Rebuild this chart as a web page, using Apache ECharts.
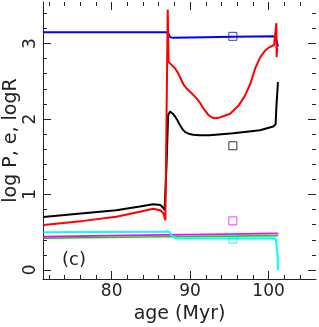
<!DOCTYPE html>
<html>
<head>
<meta charset="utf-8">
<script src="https://cdn.jsdelivr.net/npm/echarts@6/dist/echarts.min.js"></script>
<style>html,body{margin:0;padding:0;background:#fff}#c{width:319px;height:327px}</style>
</head>
<body>
<div id="c"></div>
<script>
// ---- data ----
var blueAge  = [71.3, 80, 86.9, 87.2, 87.45, 87.8, 90, 95.5, 100.9, 101.05, 101.2];
var blueVal  = [3.148, 3.148, 3.148, 3.14, 3.085, 3.075, 3.08, 3.09, 3.097, 3.09, 2.96];

var redAge = [71.3, 76.4, 80.6, 83.6, 85.3, 86.2, 86.6, 86.85, 87.15, 87.25, 87.6, 88.1, 88.4, 88.7, 89.15, 89.6, 90.0, 90.4, 90.85, 91.3, 91.7, 92.35, 92.8, 93.2, 93.6, 94.05, 95.1, 96.2, 97.0, 97.7, 98.3, 98.95, 99.6, 100.1, 100.7, 100.95, 101.0, 101.03, 101.08, 101.12];
var redVal = [0.595, 0.65, 0.705, 0.77, 0.81, 0.79, 0.75, 0.66, 3.45, 2.76, 2.72, 2.67, 2.62, 2.56, 2.46, 2.40, 2.36, 2.32, 2.27, 2.21, 2.14, 2.05, 2.02, 2.01, 2.015, 2.03, 2.07, 2.18, 2.31, 2.47, 2.67, 2.82, 2.91, 2.95, 2.98, 3.0, 3.27, 2.82, 2.95, 2.88];

var blackAge = [71.3, 76.4, 80.6, 83.6, 85.3, 86.2, 86.6, 86.75, 87.0, 87.2, 87.45, 87.8, 88.1, 88.4, 88.7, 89.0, 89.35, 89.8, 90.4, 91.2, 92.5, 95.5, 98.9, 100.6, 100.9, 101.0, 101.2];
var blackVal = [0.70, 0.75, 0.79, 0.84, 0.87, 0.86, 0.82, 0.79, 1.4, 2.05, 2.1, 2.07, 2.03, 1.98, 1.92, 1.87, 1.83, 1.805, 1.79, 1.785, 1.785, 1.81, 1.85, 1.9, 1.93, 2.16, 2.49];

var cyanAge = [71.3, 86.5, 87.0, 87.4, 87.8, 88.3, 95, 100.9, 101.05, 101.15, 101.2];
var cyanVal = [0.50, 0.505, 0.51, 0.50, 0.44, 0.42, 0.415, 0.42, 0.40, 0.2, 0.0];

var magentaAge = [71.3, 80, 87, 95, 101.25];
var magentaVal = [0.44, 0.455, 0.465, 0.475, 0.485];

var greenAge = [71.3, 87, 101.25];
var greenVal = [0.42, 0.44, 0.455];

var markAge = [95.45, 95.45, 95.45, 95.45];
var markVal = [3.095, 1.645, 0.65, 0.41];
var markColor = ['#0000ff', '#000000', '#ff00ff', '#00e5ee'];

var xMajor = [80, 90, 100];
var xMinor = [72, 74, 76, 78, 82, 84, 86, 88, 92, 94, 96, 98, 102, 104];
var yMajor = [0, 1, 2, 3];
var yMinor = [0.2, 0.4, 0.6, 0.8, 1.2, 1.4, 1.6, 1.8, 2.2, 2.4, 2.6, 2.8, 3.2, 3.4];

var xMin = 71.25, xMax = 106.05, yMin = -0.12, yMax = 3.55;
var FONT = 'DejaVu Sans';
var TXT = '#222';

function pairs(a, b) { return a.map(function (v, i) { return [v, b[i]]; }); }

function xAx(pos, ticks, len, label, name) {
  return {
    type: 'value', position: pos, min: xMin, max: xMax,
    axisLine: { show: label, onZero: false, lineStyle: { color: '#222', width: 1 } },
    axisTick: { show: true, inside: true, length: len, customValues: ticks, lineStyle: { color: '#222', width: 1 } },
    axisLabel: { show: label, customValues: ticks, margin: 4, color: TXT, fontFamily: FONT, fontSize: 17 },
    splitLine: { show: false },
    name: name || '', nameLocation: 'middle', nameGap: 26, nameMoveOverlap: false,
    nameTextStyle: { color: TXT, fontFamily: FONT, fontSize: 19 }
  };
}
function yAx(pos, ticks, len, label, name) {
  return {
    type: 'value', position: pos, min: yMin, max: yMax,
    axisLine: { show: label, onZero: false, lineStyle: { color: '#222', width: 1 } },
    axisTick: { show: true, inside: true, length: len, customValues: ticks, lineStyle: { color: '#222', width: 1 } },
    axisLabel: { show: label, customValues: ticks, rotate: 90, margin: 4, color: TXT, fontFamily: FONT, fontSize: 17 },
    splitLine: { show: false },
    name: name || '', nameLocation: 'middle', nameGap: 22, nameRotate: 90, nameMoveOverlap: false,
    nameTextStyle: { color: TXT, fontFamily: FONT, fontSize: 19 }
  };
}

function line(a, b, color, w) {
  return {
    type: 'line', data: pairs(a, b), showSymbol: false, symbol: 'none',
    lineStyle: { color: color, width: w }, itemStyle: { color: color },
    animation: false, z: 3
  };
}

var series = [
  line(greenAge, greenVal, '#00dd00', 1.6),
  line(magentaAge, magentaVal, '#ff00ff', 1.8),
  line(cyanAge, cyanVal, '#00ffff', 2),
  line(blueAge, blueVal, '#0000ff', 2),
  line(blackAge, blackVal, '#000000', 2),
  line(redAge, redVal, '#ff0000', 2),
  {
    type: 'scatter', symbol: 'rect', symbolSize: 8, animation: false, z: 4,
    data: markAge.map(function (v, i) {
      return { value: [v, markVal[i]], itemStyle: { color: 'rgba(0,0,0,0)', borderColor: markColor[i], borderWidth: 1 } };
    })
  }
];

var chart = echarts.init(document.getElementById('c'), null, { renderer: 'canvas' });
chart.setOption({
  backgroundColor: '#fff',
  animation: false,
  grid: { left: 43, right: 3, top: 2, bottom: 48, containLabel: false, outerBoundsMode: 'none' },
  xAxis: [
    xAx('bottom', xMajor, 8, true, 'age (Myr)'),
    xAx('bottom', xMinor, 4, false),
    xAx('top', xMajor, 8, false),
    xAx('top', xMinor, 4, false)
  ],
  yAxis: [
    yAx('left', yMajor, 8, true, 'log P, e, logR'),
    yAx('left', yMinor, 4, false),
    yAx('right', yMajor, 8, false),
    yAx('right', yMinor, 4, false)
  ],
  series: series,
  graphic: [{
    type: 'text', left: 62, top: 251,
    style: { text: '(c)', fill: TXT, font: '18px "DejaVu Sans"' }
  }]
});
</script>
</body>
</html>
